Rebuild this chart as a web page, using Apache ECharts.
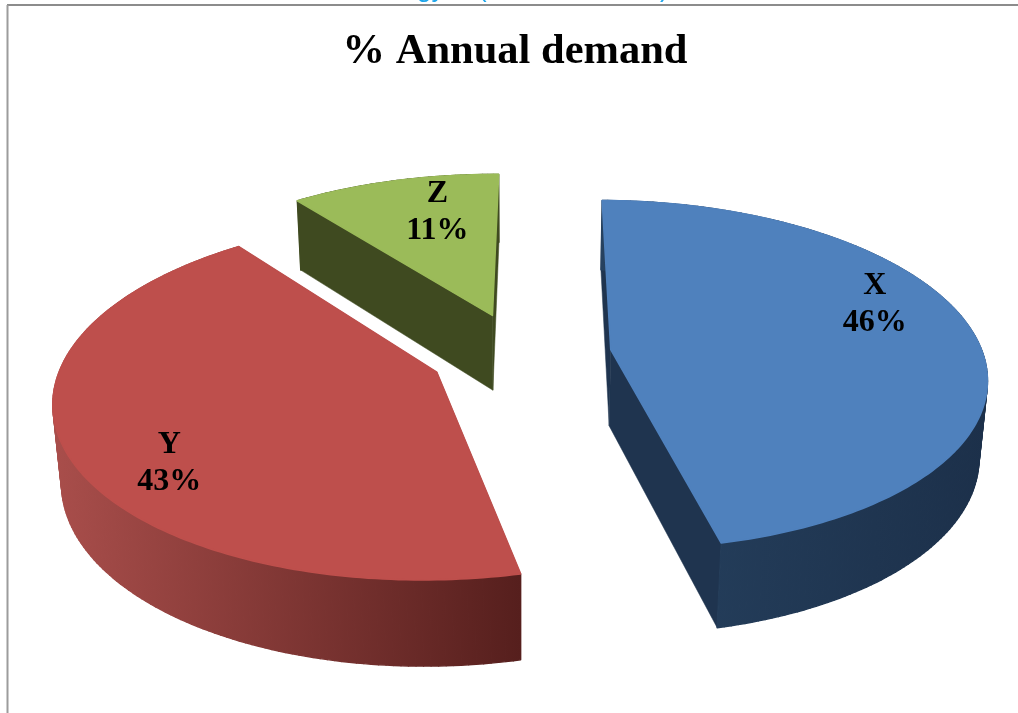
<!DOCTYPE html>
<html>
<head>
<meta charset="utf-8">
<style>html,body{margin:0;padding:0;background:#fff}#c{width:1018px;height:713px}</style>
<script src="https://cdn.jsdelivr.net/npm/echarts@6/dist/echarts.min.js"></script>
</head>
<body>
<div id="c"></div>
<script>
const chartTitle = '% Annual demand';
const categories = ['X', 'Y', 'Z'];
const values = [46.3, 43.1, 10.6];
const valueLabels = ['46%', '43%', '11%'];
const topColors = ['#4F81BD', '#BE4F4C', '#9BBB59'];
const wallColors = ['#1F344F', '#5A2321', '#3F4A20'];
const rimLeftColors = ['#26415F', '#A94E4B', '#3F4A20'];
const rimRightColors = ['#1C304A', '#561F1D', '#3F4A20'];
const labelRadius = [0.80, 0.80, 0.725];
const labelAngle = [69.8, 233.5, 346];
const clippedHeaderText = [['gy', 417], ['(', 478], [')', 660]];

// perspective view of an exploded disc
const view = { ox: 520.5, oy: 354, R: 372, a: 171.8, c: -0.145, e: 0.018, h: 78, explode: 0.245, start: 0.5 };
const rad = d => d * Math.PI / 180;
function project(x, y, z) {
  const w = 1 + view.c * y + view.e * z;
  return [view.ox + view.R * x / w, view.oy + (view.a * y + view.h * z) / w];
}
const total = values.reduce((s, v) => s + v, 0);
function sliceGeom(i) {
  let a0 = view.start;
  for (let k = 0; k < i; k++) a0 += values[k] / total * 360;
  const sweep = values[i] / total * 360;
  const mid = a0 + sweep / 2;
  return { a0, a1: a0 + sweep, dx: view.explode * Math.sin(rad(mid)), dy: -view.explode * Math.cos(rad(mid)) };
}
function renderSlice(params) {
  const i = params.dataIndex;
  const g = sliceGeom(i);
  const at = (r, deg, z) => project(g.dx + r * Math.sin(rad(deg)), g.dy - r * Math.cos(rad(deg)), z);
  const n = Math.ceil(g.a1 - g.a0);
  const arc = z => {
    const pts = [];
    for (let k = 0; k <= n; k++) pts.push(at(1, g.a0 + (g.a1 - g.a0) * k / n, z));
    return pts;
  };
  const topArc = arc(0), botArc = arc(1);
  const xs = topArc.concat(botArc).map(p => p[0]);
  const minX = Math.min(...xs), maxX = Math.max(...xs);
  const rimFill = new echarts.graphic.LinearGradient(minX, 0, maxX, 0, [
    { offset: 0, color: rimLeftColors[i] }, { offset: 1, color: rimRightColors[i] }
  ], true);
  const poly = (points, fill, z2, lineWidth) => ({
    type: 'polygon', z2, shape: { points },
    style: { fill, stroke: fill, lineWidth, lineJoin: 'round' }
  });
  const wall = deg => [at(0, 0, 0), at(1, deg, 0), at(1, deg, 1), at(0, 0, 1)];
  const lp = at(labelRadius[i], labelAngle[i], 0);
  const strips = [];
  for (let k = 0; k < n; k++) {
    strips.push(poly([topArc[k], topArc[k + 1], botArc[k + 1], botArc[k]], rimFill, 2, 1.4));
  }
  return {
    type: 'group',
    children: [
      poly(wall(g.a0), wallColors[i], 1, 0.5),
      poly(wall(g.a1), wallColors[i], 1, 0.5),
      ...strips,
      poly([at(0, 0, 0)].concat(topArc), topColors[i], 3, 1.6),
      {
        type: 'text', z2: 4, x: lp[0], y: lp[1],
        style: {
          text: categories[i] + '\n' + valueLabels[i],
          fill: '#000', font: 'bold 32px "Liberation Serif"',
          align: 'center', verticalAlign: 'middle', lineHeight: 37
        }
      }
    ]
  };
}
const chart = echarts.init(document.getElementById('c'), null, { renderer: 'canvas' });
chart.setOption({
  animation: false,
  backgroundColor: '#fff',
  title: {
    text: chartTitle, left: 510, top: 26, textAlign: 'center',
    textStyle: { fontFamily: 'Liberation Serif', fontWeight: 'bold', fontSize: 42.5, color: '#000' }
  },
  graphic: [
    ...clippedHeaderText.map(([t, x]) => ({
      type: 'text', x, y: 3,
      style: { text: t, fill: '#1EA5EA', font: '26px "Liberation Sans"', align: 'left', verticalAlign: 'bottom' }
    })),
    { type: 'line', shape: { x1: 7, y1: 5, x2: 1018, y2: 5 }, style: { stroke: '#8c8c8c', lineWidth: 2 } },
    { type: 'line', shape: { x1: 7.5, y1: 5, x2: 7.5, y2: 713 }, style: { stroke: '#9c9c9c', lineWidth: 2 } }
  ],
  series: [{
    type: 'custom',
    coordinateSystem: 'none',
    renderItem: renderSlice,
    data: values.map((v, i) => ({ name: categories[i], value: v }))
  }]
});
</script>
</body>
</html>
